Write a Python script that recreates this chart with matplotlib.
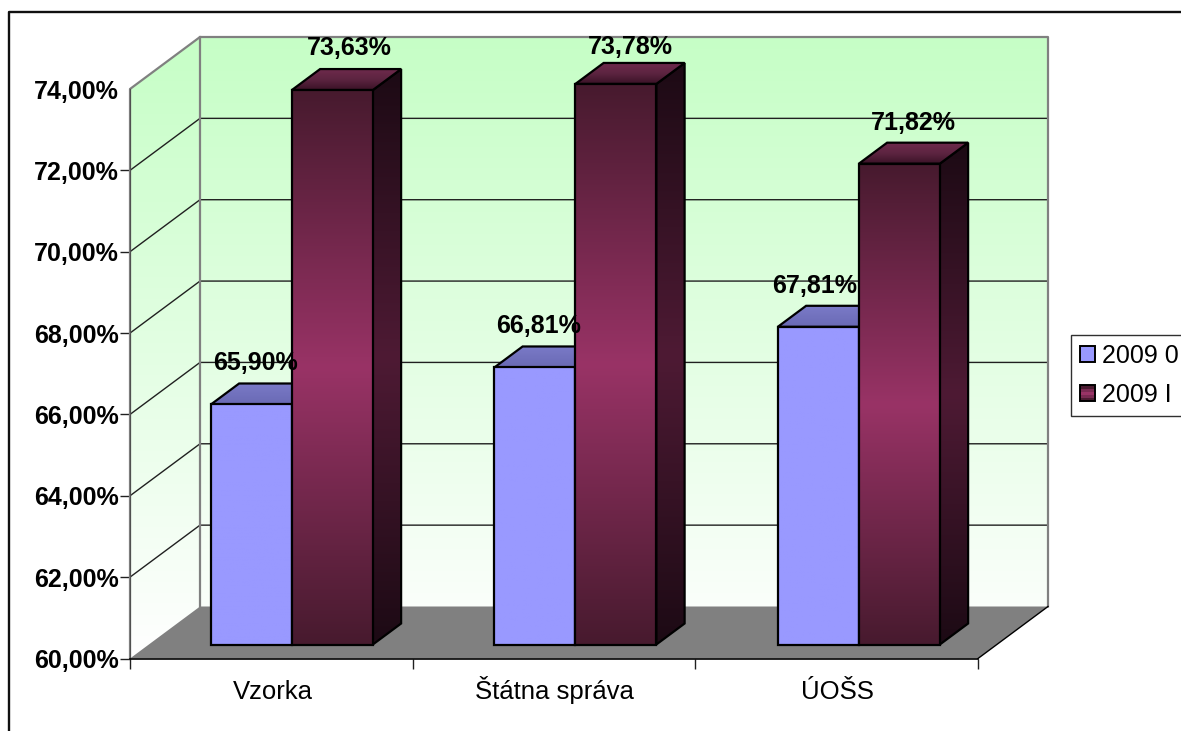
import matplotlib
matplotlib.use("Agg")
import matplotlib.pyplot as plt
import numpy as np
from matplotlib.colors import LinearSegmentedColormap
from matplotlib.legend_handler import HandlerBase
from matplotlib.lines import Line2D
from matplotlib.patches import Patch, Polygon, Rectangle

categories = ["Vzorka", "Štátna správa", "ÚOŠS"]
series_names = ["2009 0", "2009 I"]
values_0 = [65.90, 66.81, 67.81]
values_1 = [73.63, 73.78, 71.82]
y_ticks = [60, 62, 64, 66, 68, 70, 72, 74]

W, H = 1181, 731
FONT = "Liberation Sans"

# pixels per unit of the front plane, used for the fake 3d depth
PX_X = (978 - 130) / 3
PX_Y = (658.5 - 89) / 14
DEPTH_X = 70 / PX_X
DEPTH_Y = 52 / PX_Y


def project(x: float, v: float, d: float) -> tuple[float, float]:
    return (x + d * DEPTH_X, v + d * DEPTH_Y)


def gradient_face(ax, points, colors, zorder) -> None:
    # vertical gradient clipped to the polygon of the face
    ys = [p[1] for p in points]
    xs = [p[0] for p in points]
    cmap = LinearSegmentedColormap.from_list("face", colors)
    grad = np.linspace(0, 1, 256).reshape(-1, 1)
    im = ax.imshow(grad, cmap=cmap, aspect="auto", origin="upper",
                   extent=(min(xs), max(xs), min(ys), max(ys)), zorder=zorder)
    clip = Polygon(points, closed=True, transform=ax.transData)
    im.set_clip_box(ax.figure.bbox)
    im.set_clip_path(clip)
    ax.add_patch(Polygon(points, closed=True, fill=False, edgecolor="black",
                         lw=1.6, zorder=zorder + 0.1, clip_on=False))


def draw_walls(ax) -> None:
    back = [project(0, 60, 1), project(3, 60, 1), project(3, 74, 1), project(0, 74, 1)]
    side = [project(0, 60, 0), project(0, 60, 1), project(0, 74, 1), project(0, 74, 0)]
    wall_colors = ["#c6fec6", "#ffffff"]
    for poly in (back, side):
        ys = [p[1] for p in back]
        xs = [p[0] for p in poly]
        cmap = LinearSegmentedColormap.from_list("wall", wall_colors)
        grad = np.linspace(0, 1, 256).reshape(-1, 1)
        im = ax.imshow(grad, cmap=cmap, aspect="auto", origin="upper",
                       extent=(min(xs), max(xs), 60, max(ys)), zorder=1)
        im.set_clip_box(ax.figure.bbox)
        im.set_clip_path(Polygon(poly, closed=True, transform=ax.transData))

    # floor
    floor = [project(0, 60, 0), project(3, 60, 0), project(3, 60, 1), project(0, 60, 1)]
    ax.add_patch(Polygon(floor, closed=True, facecolor="#808080", edgecolor="none",
                         zorder=2, clip_on=False))

    # gridlines, back wall and left wall
    for tick in y_ticks[1:-1]:
        p0, p1, p2 = project(0, tick, 0), project(0, tick, 1), project(3, tick, 1)
        ax.plot([p0[0], p1[0], p2[0]], [p0[1], p1[1], p2[1]], color="#202020",
                lw=1.0, zorder=3, clip_on=False)

    # wall borders
    border = [project(0, 60, 0), project(0, 74, 0), project(0, 74, 1), project(3, 74, 1),
              project(3, 60, 1)]
    ax.plot(*zip(*border), color="#808080", lw=1.6, zorder=3, clip_on=False)
    inner = [project(0, 60, 1), project(0, 74, 1)]
    ax.plot(*zip(*inner), color="#808080", lw=1.6, zorder=3, clip_on=False)
    right = [project(3, 60, 0), project(3, 60, 1)]
    ax.plot(*zip(*right), color="black", lw=1.0, zorder=3, clip_on=False)


def draw_bar(ax, x0: float, v: float, style: dict, order: float) -> None:
    width = 81 / PX_X
    d0, d1 = 14 / 52, 35 / 52
    front = [project(x0, 60, d0), project(x0 + width, 60, d0),
             project(x0 + width, v, d0), project(x0, v, d0)]
    side = [project(x0 + width, 60, d0), project(x0 + width, 60, d1),
            project(x0 + width, v, d1), project(x0 + width, v, d0)]
    top = [project(x0, v, d0), project(x0 + width, v, d0),
           project(x0 + width, v, d1), project(x0, v, d1)]
    gradient_face(ax, side, style["side"], order)
    gradient_face(ax, top, style["top"], order + 0.2)
    gradient_face(ax, front, style["front"], order + 0.4)


class GradientSwatch(HandlerBase):
    # legend key with the same dark-bright-dark look as the bars
    def create_artists(self, legend, orig_handle, xdescent, ydescent, width, height,
                       fontsize, trans):
        shades = ["#4a1a30", "#7a2a52", "#993366", "#7a2a52", "#4a1a30"]
        artists = []
        step = height / len(shades)
        for i, shade in enumerate(shades):
            artists.append(Rectangle((-xdescent, -ydescent + i * step), width, step,
                                     facecolor=shade, edgecolor="none", transform=trans))
        artists.append(Rectangle((-xdescent, -ydescent), width, height, fill=False,
                                 edgecolor="black", lw=1.4, transform=trans))
        return artists


def main() -> None:
    fig = plt.figure(figsize=(W / 100, H / 100), dpi=100, facecolor="white")
    ax = fig.add_axes([130 / W, 1 - 658.5 / H, (978 - 130) / W, (658.5 - 89) / H])
    ax.set_facecolor("none")

    draw_walls(ax)

    style_0 = {"front": ["#9999ff", "#9999ff"], "side": ["#4c4c80", "#4c4c80"],
               "top": ["#7a7ac8", "#6a6ab4"]}
    style_1 = {"front": ["#471a2e", "#993366", "#471a2e"],
               "side": ["#1c0a14", "#4e1a34", "#1c0a14"],
               "top": ["#6e2a4c", "#5c2440", "#3a1226"]}

    width = 81 / PX_X
    offset = 62 / PX_X
    step = 283.5 / PX_X
    # the labels were dragged by hand in the original, so each one has its own nudge
    nudge_0 = [(4, 20), (3, 20), (-4, 20)]
    nudge_1 = [(17, 21), (14, 16), (14, 20)]
    d1 = 35 / 52
    for i in range(len(categories)):
        draw_bar(ax, i * step + offset, values_0[i], style_0, 5 + i)
        draw_bar(ax, i * step + offset + width, values_1[i], style_1, 5.5 + i)
        for x0, v, (nx, ny) in ((i * step + offset, values_0[i], nudge_0[i]),
                                (i * step + offset + width, values_1[i], nudge_1[i])):
            cx, cy = project(x0 + width / 2, v, d1)
            ax.annotate(f"{v:.2f}%".replace(".", ","), (cx - 28 / PX_X, cy), xytext=(nx * 0.72, ny * 0.72),
                        textcoords="offset points", ha="center", va="center",
                        fontsize=18, fontweight="bold", family=FONT, color="black",
                        zorder=20, annotation_clip=False)

    ax.set_xlim(0, 3)
    ax.set_ylim(60, 74)
    ax.set_yticks(y_ticks)
    ax.set_yticklabels([f"{t:.2f}%".replace(".", ",") for t in y_ticks], fontsize=18,
                       fontweight="bold", family=FONT)
    ax.set_xticks([0, 1, 2, 3])
    ax.set_xticklabels([])
    ax.set_xticks([0.505, 1.5, 2.503], minor=True)
    ax.set_xticklabels(categories, minor=True, fontsize=18.5, family=FONT, va="baseline")
    ax.tick_params(axis="x", which="major", length=7.5, width=1, color="#202020")
    ax.tick_params(axis="x", which="minor", length=0, pad=29)
    ax.tick_params(axis="y", length=7, width=1, color="#202020", pad=1)
    ax.yaxis.get_major_ticks()[-1].tick1line.set_visible(False)

    for name in ("top", "right"):
        ax.spines[name].set_visible(False)
    ax.spines["left"].set_color("#505050")
    ax.spines["bottom"].set_color("black")
    ax.spines["bottom"].set_linewidth(1.2)
    for spine in ax.spines.values():
        spine.set_zorder(4)

    bar_key = Patch(facecolor="#8c2f5e", edgecolor="black")
    handles = [Patch(facecolor="#9999ff", edgecolor="black", lw=1.4), bar_key]
    leg = fig.legend(handles, series_names, loc="upper left",
                     bbox_to_anchor=(1071 / W, 1 - 335 / H), borderaxespad=0,
                     prop={"family": FONT, "size": 18}, fancybox=False, framealpha=1,
                     edgecolor="#303030", handlelength=0.6, handleheight=0.6,
                     handletextpad=0.25, labelspacing=0.6, borderpad=0.37,
                     handler_map={bar_key: GradientSwatch()})
    leg.get_frame().set_linewidth(1.0)

    # outer chart frame, right and bottom sides fall outside of the picture
    fig.add_artist(Line2D([9.5 / W, 9.5 / W, 1.0], [0, 1 - 11.5 / H, 1 - 11.5 / H],
                          color="#101010", lw=1.7))

    fig.savefig("out.png", dpi=100)


if __name__ == "__main__":
    main()
